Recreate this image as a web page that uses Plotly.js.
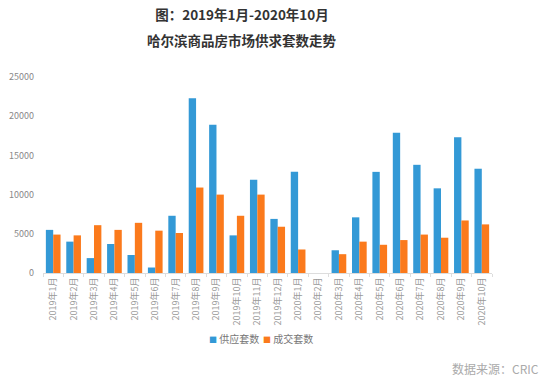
<!DOCTYPE html>
<html>
<head>
<meta charset="utf-8">
<script src="https://cdn.plot.ly/plotly-3.0.1.min.js"></script>
<style>html,body{margin:0;padding:0;background:#fff;}#chart{width:542px;height:381px;}</style>
</head>
<body>
<div id="chart"></div>
<script>
const months = ["2019年1月","2019年2月","2019年3月","2019年4月","2019年5月","2019年6月","2019年7月","2019年8月","2019年9月","2019年10月","2019年11月","2019年12月","2020年1月","2020年2月","2020年3月","2020年4月","2020年5月","2020年6月","2020年7月","2020年8月","2020年9月","2020年10月"];
const supply = [5500,4000,1900,3700,2300,700,7300,22300,18900,4800,11900,6900,12900,0,2900,7100,12900,17900,13800,10800,17300,13300];
const deals = [4900,4800,6100,5500,6400,5400,5100,10900,10000,7300,10000,5900,3000,0,2400,4000,3600,4200,4900,4500,6700,6200];
const seriesNames = ["供应套数","成交套数"];
const titleLine1 = "图：2019年1月-2020年10月";
const titleLine2 = "哈尔滨商品房市场供求套数走势";
const sourceText = "数据来源：CRIC";

const blue = '#3399d6', orange = '#fb7a1c';
const font = "'Noto Sans CJK SC', 'Microsoft YaHei', sans-serif";
const data = [
  {type:'bar', name:seriesNames[0], x:months, y:supply, marker:{color:blue}},
  {type:'bar', name:seriesNames[1], x:months, y:deals, marker:{color:orange}}
];
const legendLabel = (c, t) => '<span style="color:'+c+';font-size:8px">■</span> '+t;
const layout = {
  width:542, height:381,
  margin:{l:43, r:50, t:77, b:108},
  paper_bgcolor:'#fff', plot_bgcolor:'#fff',
  font:{family:font, color:'#888'},
  title:{text:titleLine1, x:242/542, xanchor:'center', xref:'container', y:1-15/381, yref:'container', yanchor:'middle',
         font:{family:font, size:13.5, color:'#333', weight:'bold'}},
  barmode:'group', bargap:0.28, bargroupgap:0,
  showlegend:false,
  xaxis:{type:'category', tickangle:-90, tickfont:{family:font, size:9, color:'#999'},
         showline:true, linecolor:'#ddd', linewidth:1, ticks:'outside', tickson:'boundaries',
         ticklen:3, tickcolor:'#ddd', showgrid:false, automargin:false},
  yaxis:{range:[0,25000], tickvals:[0,5000,10000,15000,20000,25000], ticktext:['0','5000','10000','15000','20000','25000'],
         tickfont:{family:font, size:9, color:'#888'}, showgrid:false, zeroline:false, showline:false,
         ticks:'', ticklabelstandoff:8, automargin:false},
  annotations:[
    {text:titleLine2, xref:'paper', yref:'paper', x:(242-43)/449, y:1+(77-40)/196, xanchor:'center', yanchor:'middle',
     showarrow:false, font:{family:font, size:13.5, color:'#333', weight:'bold'}},
    {text:legendLabel(blue, seriesNames[0]), xref:'paper', yref:'paper', x:(207-43)/449, y:-(338-273)/196,
     xanchor:'left', yanchor:'middle', showarrow:false, font:{family:font, size:10, color:'#777'}},
    {text:legendLabel(orange, seriesNames[1]), xref:'paper', yref:'paper', x:(261-43)/449, y:-(338-273)/196,
     xanchor:'left', yanchor:'middle', showarrow:false, font:{family:font, size:10, color:'#777'}},
    {text:sourceText, xref:'paper', yref:'paper', x:(541-43)/449, y:-(368-273)/196, xanchor:'right', yanchor:'middle',
     showarrow:false, font:{family:font, size:12, color:'#aaa'}}
  ]
};
Plotly.newPlot('chart', data, layout, {displayModeBar:false, staticPlot:true});
</script>
</body>
</html>
